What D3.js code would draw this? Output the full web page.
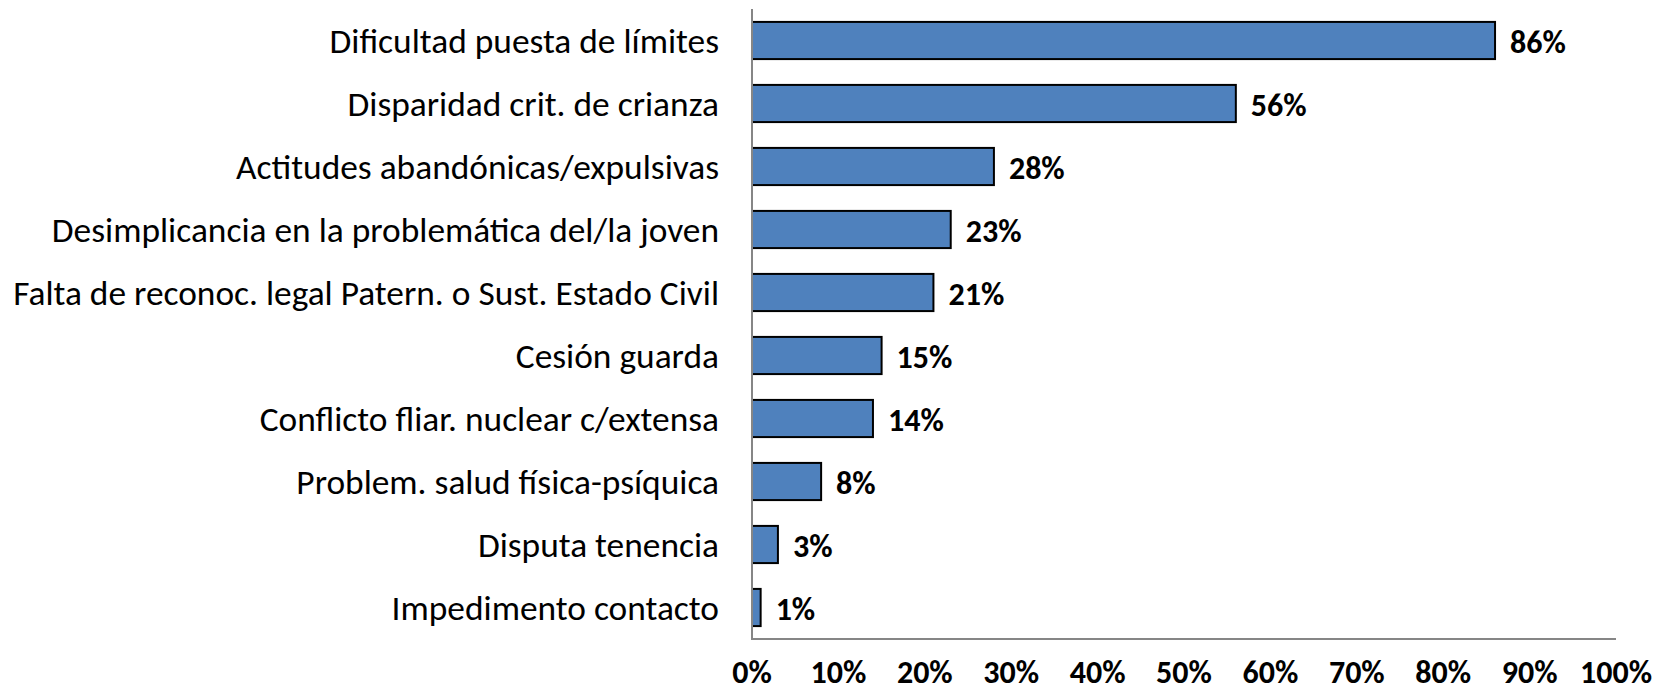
<!DOCTYPE html>
<html>
<head>
<meta charset="utf-8">
<script src="https://cdn.jsdelivr.net/npm/d3@7"></script>
<style>
  html, body { margin: 0; padding: 0; background: #fff; }
  svg { display: block; font-family: Carlito, Calibri, Lato, "Open Sans", sans-serif; }
</style>
</head>
<body>
<svg id="chart" width="1657" height="691"></svg>
<script>
// categories top to bottom, values in percent
const categories = [
  'Dificultad puesta de límites',
  'Disparidad crit. de crianza',
  'Actitudes abandónicas/expulsivas',
  'Desimplicancia en la problemática del/la joven',
  'Falta de reconoc. legal Patern. o Sust. Estado Civil',
  'Cesión guarda',
  'Conflicto fliar. nuclear c/extensa',
  'Problem. salud física-psíquica',
  'Disputa tenencia',
  'Impedimento contacto'
];
const values = [86, 56, 28, 23, 21, 15, 14, 8, 3, 1];
const ticks = [0, 10, 20, 30, 40, 50, 60, 70, 80, 90, 100];

const svg = d3.select('#chart');
const m = { left: 752, right: 1616, top: 9, bottom: 639 };

const x = d3.scaleLinear().domain([0, 100]).range([m.left, m.right]);
const y = d3.scaleBand().domain(categories).range([m.top, m.bottom]).paddingInner(0.41).paddingOuter(0.205);

// bars
svg.append('g').selectAll('rect').data(values).enter().append('rect')
  .attr('x', x(0))
  .attr('y', (d, i) => y(categories[i]))
  .attr('width', d => x(d) - x(0))
  .attr('height', y.bandwidth())
  .attr('fill', '#4F81BD')
  .attr('stroke', '#000')
  .attr('stroke-width', 2);

// axes lines
svg.append('line').attr('x1', m.left).attr('x2', m.left).attr('y1', m.top).attr('y2', m.bottom)
  .attr('stroke', '#868686').attr('stroke-width', 2);
svg.append('line').attr('x1', m.left - 1).attr('x2', m.right).attr('y1', m.bottom).attr('y2', m.bottom)
  .attr('stroke', '#868686').attr('stroke-width', 2);

// category labels
const catLabels = svg.append('g').selectAll('text').data(categories).enter().append('text')
  .attr('x', 719)
  .attr('y', d => y(d) + y.bandwidth() / 2)
  .attr('dy', '0.35em')
  .attr('text-anchor', 'end')
  .attr('font-size', 32)
  .attr('fill', '#000')
  .text(d => d);

// fit longest label to the reference width (~708px)
const maxW = d3.max(catLabels.nodes(), n => n.getComputedTextLength());
catLabels.attr('font-size', Math.min(36, 32 * 706 / maxW));

// value labels
svg.append('g').selectAll('text').data(values).enter().append('text')
  .attr('x', d => x(d) + 15)
  .attr('y', (d, i) => y(categories[i]) + y.bandwidth() / 2)
  .attr('dy', '0.38em')
  .attr('font-size', 32)
  .attr('font-weight', 'bold')
  .text(d => d + '%');

// x tick labels
svg.append('g').selectAll('text').data(ticks).enter().append('text')
  .attr('x', d => x(d))
  .attr('y', 683)
  .attr('text-anchor', 'middle')
  .attr('font-size', 32)
  .attr('font-weight', 'bold')
  .text(d => d + '%');
</script>
</body>
</html>
